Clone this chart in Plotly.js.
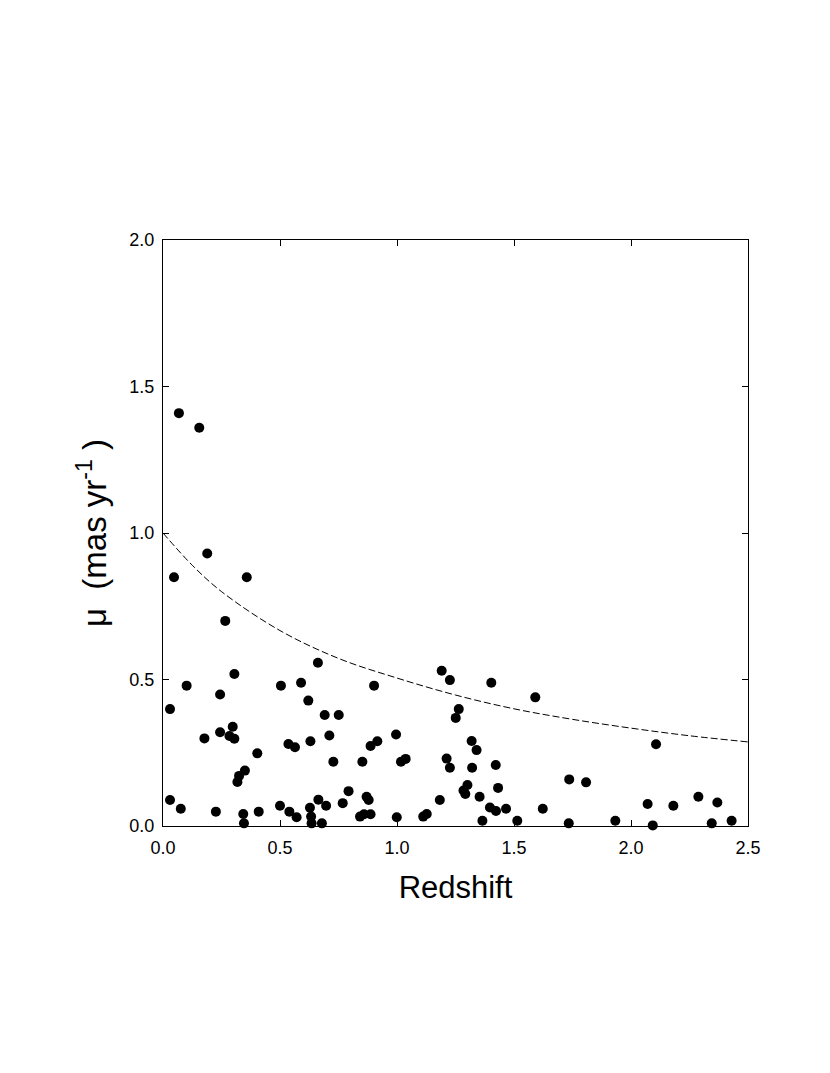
<!DOCTYPE html>
<html>
<head>
<meta charset="utf-8">
<script src="https://cdn.plot.ly/plotly-3.0.1.min.js"></script>
<style>html,body{margin:0;padding:0;background:#fff;}#chart{width:830px;height:1073px;}</style>
</head>
<body>
<div id="chart"></div>
<script>
// Scatter data: redshift vs proper motion (mas/yr)
const redshift = [
  0.068, 0.155, 0.189, 0.047, 0.358, 0.266, 0.662, 0.101, 0.305, 0.244,
  0.030, 0.504, 0.590, 0.621, 0.691, 0.751, 0.902, 1.191, 1.226, 1.403,
  1.591, 1.264, 1.251, 0.177, 0.244, 0.298, 0.284, 0.305, 0.403, 0.350,
  0.325, 0.318, 0.536, 0.564, 0.630, 0.711, 0.887, 0.916, 0.996, 0.728,
  0.852, 1.017, 1.037, 1.319, 1.340, 1.212, 1.226, 1.321, 1.422, 1.736,
  1.808, 2.107, 1.301, 1.284, 1.292, 1.432, 1.353, 1.183, 1.397, 1.423,
  1.466, 1.623, 1.365, 1.514, 1.734, 2.071, 2.181, 2.288, 2.369, 1.933,
  2.093, 2.345, 2.430, 0.030, 0.076, 0.226, 0.343, 0.346, 0.409, 0.500,
  0.540, 0.571, 0.628, 0.633, 0.635, 0.679, 0.664, 0.697, 0.768, 0.793,
  0.870, 0.879, 0.842, 0.859, 0.887, 0.999, 1.112, 1.127
];
const properMotion = [
  1.409, 1.359, 0.930, 0.849, 0.849, 0.700, 0.557, 0.479, 0.519, 0.449,
  0.399, 0.479, 0.489, 0.428, 0.379, 0.379, 0.479, 0.530, 0.498, 0.489,
  0.439, 0.399, 0.369, 0.299, 0.320, 0.339, 0.307, 0.298, 0.248, 0.189,
  0.171, 0.150, 0.280, 0.269, 0.289, 0.309, 0.273, 0.289, 0.312, 0.219,
  0.219, 0.219, 0.229, 0.290, 0.259, 0.230, 0.199, 0.199, 0.208, 0.159,
  0.149, 0.279, 0.140, 0.121, 0.109, 0.130, 0.100, 0.089, 0.063, 0.051,
  0.059, 0.059, 0.018, 0.018, 0.009, 0.075, 0.069, 0.100, 0.080, 0.018,
  0.002, 0.009, 0.018, 0.089, 0.059, 0.049, 0.041, 0.009, 0.049, 0.069,
  0.049, 0.030, 0.062, 0.032, 0.009, 0.009, 0.090, 0.069, 0.078, 0.119,
  0.100, 0.089, 0.032, 0.040, 0.040, 0.030, 0.032, 0.041
];
// Dashed reference curve
const curveZ  = [0.0, 0.125, 0.25, 0.5, 0.75, 1.0, 1.25, 1.5, 1.75, 2.0, 2.25, 2.5];
const curveMu = [1.0, 0.89, 0.80, 0.667, 0.572, 0.505, 0.447, 0.40, 0.364, 0.334, 0.308, 0.287];

const xTicks = [0.0, 0.5, 1.0, 1.5, 2.0, 2.5];
const yTicks = [0.0, 0.5, 1.0, 1.5, 2.0];

const FONT = 'Liberation Sans, Arial, sans-serif';

const traces = [
  {
    x: curveZ, y: curveMu, type: 'scatter', mode: 'lines',
    line: {color: '#000', width: 1, dash: '7px,3px', shape: 'spline'},
    hoverinfo: 'skip', showlegend: false
  },
  {
    x: redshift, y: properMotion, type: 'scatter', mode: 'markers',
    marker: {color: '#000', size: 10, line: {width: 0}},
    showlegend: false, cliponaxis: false
  }
];

const axisCommon = {
  showgrid: false, zeroline: false, showline: true, linecolor: '#000', linewidth: 1,
  mirror: 'ticks', ticks: 'inside', ticklen: 6, tickwidth: 1, tickcolor: '#000',
  tickfont: {family: FONT, size: 18, color: '#000'}
};

const layout = {
  width: 830, height: 1073,
  margin: {l: 163, r: 82, t: 240, b: 247},
  paper_bgcolor: '#fff', plot_bgcolor: '#fff',
  font: {family: FONT, color: '#000'},
  xaxis: Object.assign({}, axisCommon, {
    range: [0, 2.5], tickvals: xTicks, ticktext: xTicks.map(v => v.toFixed(1)),
    ticklabelstandoff: 5,
    title: {text: 'Redshift', font: {size: 31, family: FONT, color: '#000'}, standoff: 19}
  }),
  yaxis: Object.assign({}, axisCommon, {
    range: [0, 2.0], tickvals: yTicks, ticktext: yTicks.map(v => v.toFixed(1)),
    ticklabelstandoff: 4,
    title: {text: 'μ&nbsp;&nbsp;(mas yr<sup>-1</sup>&nbsp;)', font: {size: 33, family: FONT, color: '#000'}, standoff: 12}
  }),
  showlegend: false
};

Plotly.newPlot('chart', traces, layout, {displayModeBar: false, staticPlot: true});
</script>
</body>
</html>
